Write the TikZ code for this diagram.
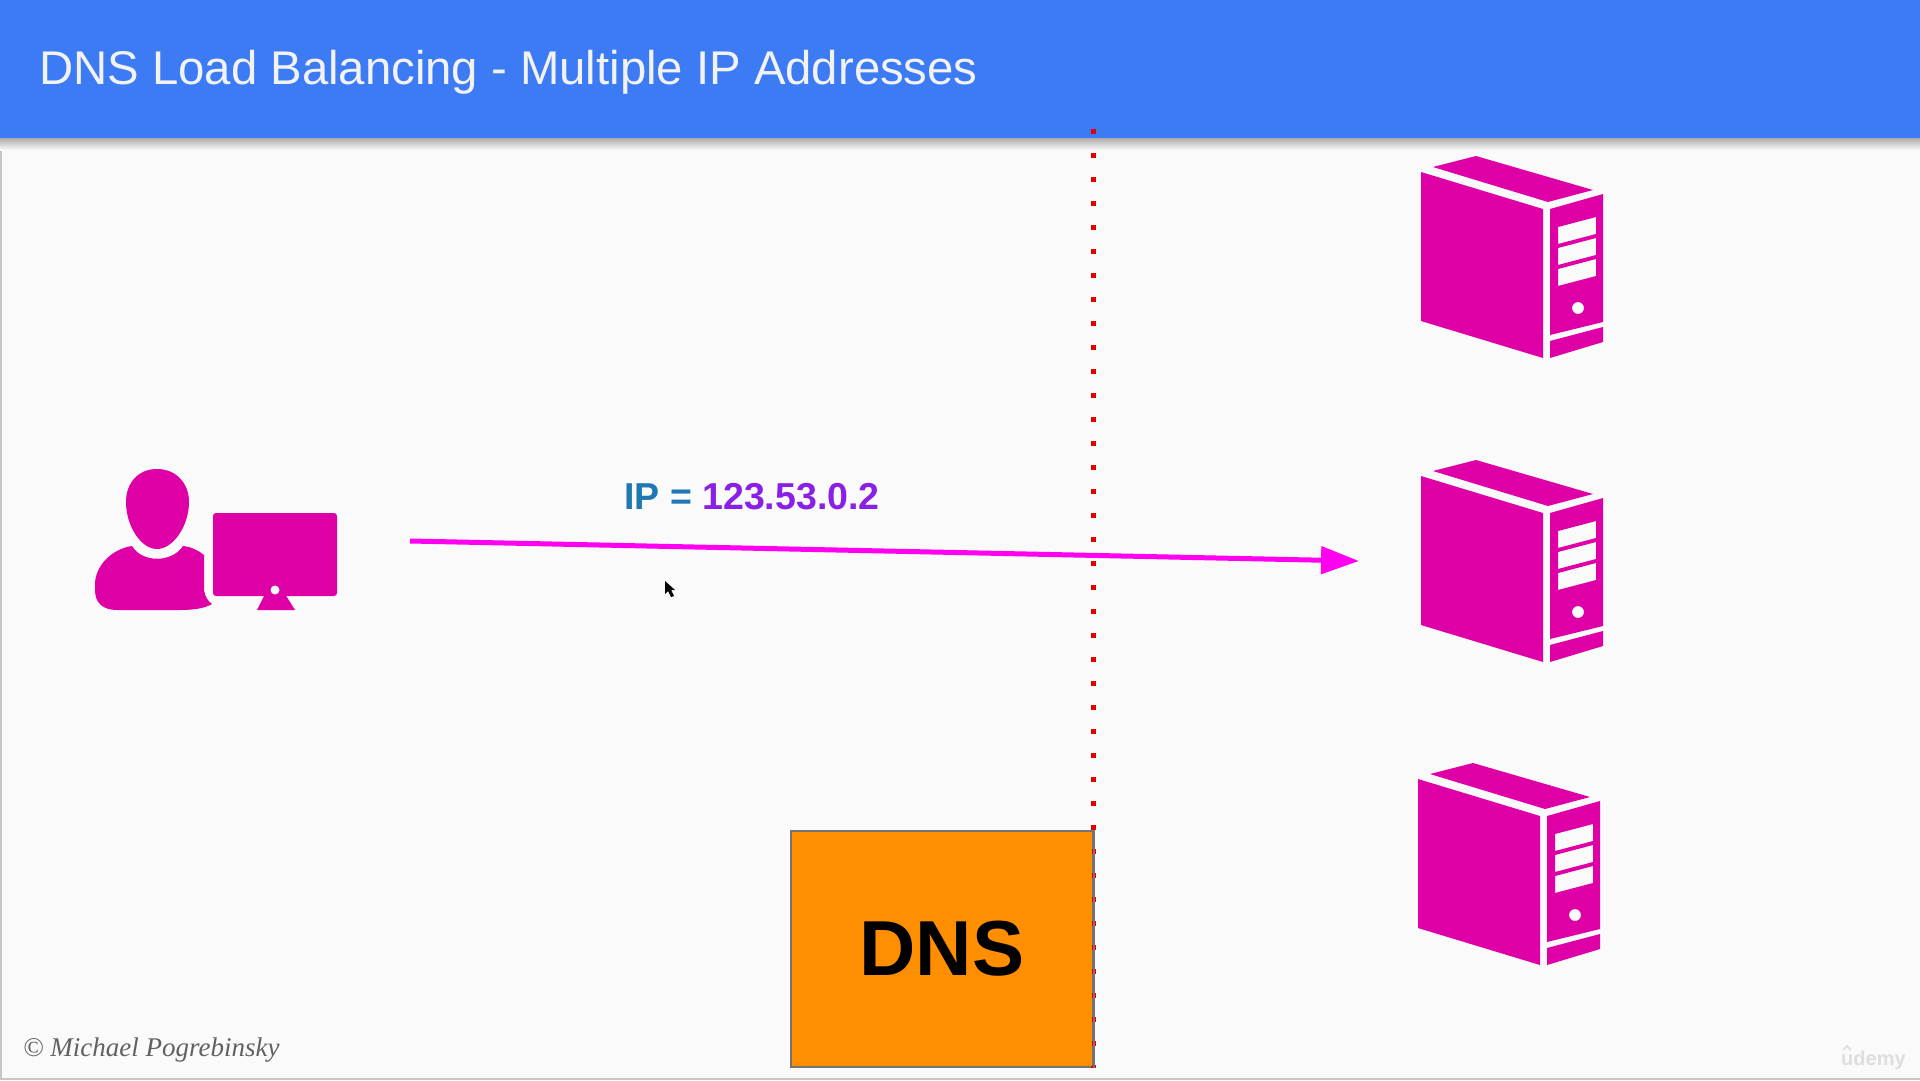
\documentclass[tikz,border=0pt]{standalone}
\usepackage{fontspec}
\setmainfont{Liberation Sans}
\newfontfamily\serifit[ItalicFont=Liberation Serif Italic]{Liberation Serif}
\usetikzlibrary{arrows.meta,shadings}
\definecolor{pagebg}{HTML}{FAFAFA}
\definecolor{headblue}{HTML}{3C7BF3}
\definecolor{iconpink}{HTML}{DE00A6}
\definecolor{arrowpink}{HTML}{FF00F0}
\definecolor{dnsorange}{HTML}{FF8F00}
\definecolor{ipblue}{HTML}{1F77B4}
\definecolor{ippurple}{HTML}{8A1FE6}
\tikzset{
  iconfill/.style={fill=iconpink,draw=none},
  serverpc/.pic={
    \fill[iconfill] (1421,172)--(1543,209)--(1543,358)--(1421,321)--cycle;
    \fill[iconfill] (1433,167)--(1476,156)--(1593,190)--(1548,202)--cycle;
    \fill[iconfill,even odd rule] (1550,209)--(1603,194)--(1603,322)--(1550,335)--cycle
      (1558,227)--(1596,217)--(1596,234)--(1558,244)--cycle
      (1558,248)--(1596,238)--(1596,255)--(1558,265)--cycle
      (1558,269)--(1596,259)--(1596,276)--(1558,286)--cycle
      (1578,308) circle[radius=6];
    \fill[iconfill] (1550,341)--(1603,327)--(1603,342)--(1550,358)--cycle;
  }
}
\begin{document}
\begin{tikzpicture}[x=1pt,y=-1pt]
\useasboundingbox (0,0) rectangle (1920,1080);
\fill[pagebg] (0,0) rectangle (1920,1080);
\fill[black!22] (0,1078) rectangle (1920,1080);
\fill[black!22] (0,0) rectangle (1.5,1080);
\fill[top color=black!35,bottom color=pagebg] (0,137) rectangle (1920,150);
\fill[headblue] (0,0) rectangle (1920,138);
\node[anchor=base west,inner sep=0,text=white!95!black,font=\fontsize{47.3}{50}\selectfont] (title) at (39,84) {DNS Load Balancing - Multiple IP Addresses};
% user
\fill[iconfill] (157,469) .. controls (176,469) and (189,483) .. (189,502)
  .. controls (189,526) and (173,549) .. (157,549)
  .. controls (141,549) and (126,526) .. (126,502)
  .. controls (126,483) and (138,469) .. (157,469) -- cycle;
\fill[iconfill] (132,546) .. controls (142,563) and (172,563) .. (183,546)
  .. controls (192,547) and (199,551) .. (204,555) -- (204,590)
  .. controls (205,597) and (208,601) .. (212,604)
  .. controls (205,608) and (195,610) .. (180,610) -- (117,610)
  .. controls (103,610) and (95,603) .. (95,590) -- (95,583)
  .. controls (96,565) and (112,549) .. (132,546) -- cycle;
\fill[iconfill,rounded corners=3pt] (213,513) rectangle (337,596);
\fill[iconfill] (265,594)--(285,594)--(295,610)--(257,610)--cycle;
\fill[pagebg] (275,590) circle[radius=4.5];
% servers
\pic at (0,0) {serverpc};
\pic at (0,304) {serverpc};
\pic at (-3,607) {serverpc};
% dotted line and DNS box
\coordinate (dotstop) at (1093,128.5);
\node[draw=black!55,line width=1.5pt,fill=dnsorange,minimum width=302pt,minimum height=236pt,inner sep=0,font=\bfseries\fontsize{78}{80}\selectfont] (dns) at (942,949) {DNS};
\draw[red!90!black,line width=5pt,dash pattern=on 5pt off 19pt] (dotstop) -- (dotstop |- dns.south);
\fill[dnsorange] (1060,833) rectangle (1092,1066);
\draw[black!55,line width=1.5pt] (dns.north east) -- (dns.south east);
% arrow
\coordinate (reqstart) at (410,541);
\coordinate (reqend) at (1359,561);
\draw[arrowpink,line width=5pt,-{Triangle[length=38pt,width=27pt]}] (reqstart) -- (reqend);
\node[anchor=base west,inner sep=0,font=\bfseries\fontsize{37.5}{40}\selectfont] (iplabel) at (624,509) {\textcolor{ipblue}{IP =} \textcolor{ippurple}{123.53.0.2}};
% cursor
\fill[black] (665,581)--(665,594)--(668,591)--(671,597)--(674,596)--(671,590)--(675,590)--cycle;
% footer
\node[anchor=base west,inner sep=0,text=black!62,font=\serifit\itshape\fontsize{27}{30}\selectfont] (copyright) at (23,1056) {© Michael Pogrebinsky};
\node[anchor=base west,inner sep=0,text=black!13,font=\bfseries\fontsize{20}{24}\selectfont] (udemy) at (1841,1065) {udemy};
\draw[black!13,line width=1.5pt] (1843,1050) -- (1847,1046) -- (1851,1050);
\end{tikzpicture}
\end{document}
